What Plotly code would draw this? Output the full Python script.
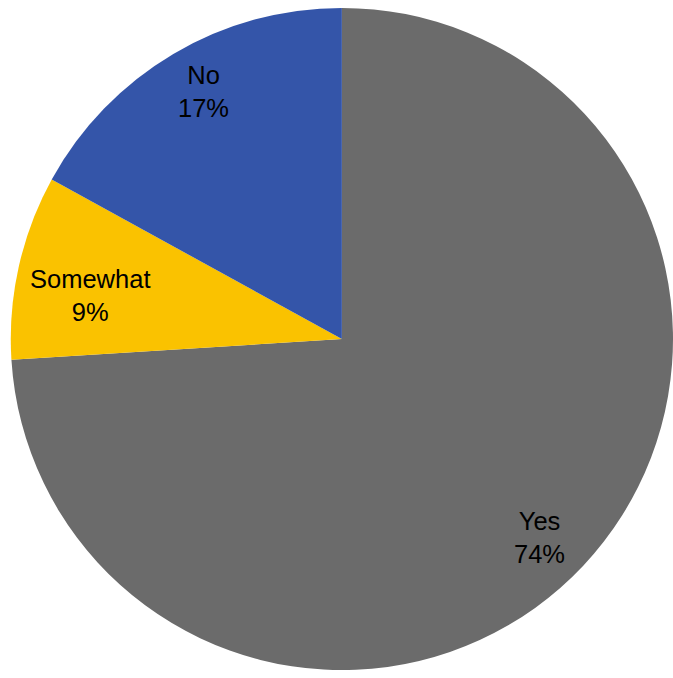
import math
import plotly.graph_objects as go

# Survey answers, share of respondents (%)
categories = ["Yes", "Somewhat", "No"]
shares = [74, 9, 17]
slice_colors = ["#6b6b6b", "#fac200", "#3455a9"]

# Pie placement inside the figure (paper fractions)
dom_x = [0.016, 1.0]
dom_y = [0.009, 0.991]
W, H = 673, 678

fig = go.Figure(
    go.Pie(
        labels=categories,
        values=shares,
        sort=False,
        direction="clockwise",
        rotation=0,
        marker=dict(colors=slice_colors, line=dict(width=0)),
        textinfo="none",
        hoverinfo="label+percent",
        showlegend=False,
        domain=dict(x=dom_x, y=dom_y),
    )
)

# Labels: placed near each slice's mid-angle (radius fraction, angle nudge in degrees)
cx_px = (dom_x[0] + dom_x[1]) / 2 * W
cy_px = (dom_y[0] + dom_y[1]) / 2 * H
radius_px = min((dom_x[1] - dom_x[0]) * W, (dom_y[1] - dom_y[0]) * H) / 2
label_place = {"Yes": (0.846, 1.8), "Somewhat": (0.772, -2.9), "No": (0.857, 1.5)}

total = sum(shares)
start = 0.0
for name, val in zip(categories, shares):
    span = val / total * 360
    frac, nudge = label_place[name]
    mid = math.radians(start + span / 2 + nudge)
    r = frac * radius_px
    x_px = cx_px + r * math.sin(mid)
    y_px = cy_px + r * math.cos(mid)
    fig.add_annotation(
        x=x_px / W, y=y_px / H, xref="paper", yref="paper",
        xanchor="center", yanchor="middle",
        text=f"{name}<br>{round(val / total * 100)}%",
        showarrow=False,
        font=dict(family="Liberation Sans, Arial, sans-serif", size=25.5, color="#000000"),
        align="center",
    )
    start += span

fig.update_layout(
    width=W, height=H,
    margin=dict(l=0, r=0, t=0, b=0),
    paper_bgcolor="#ffffff",
    plot_bgcolor="#ffffff",
)

fig.write_html("out.html")
